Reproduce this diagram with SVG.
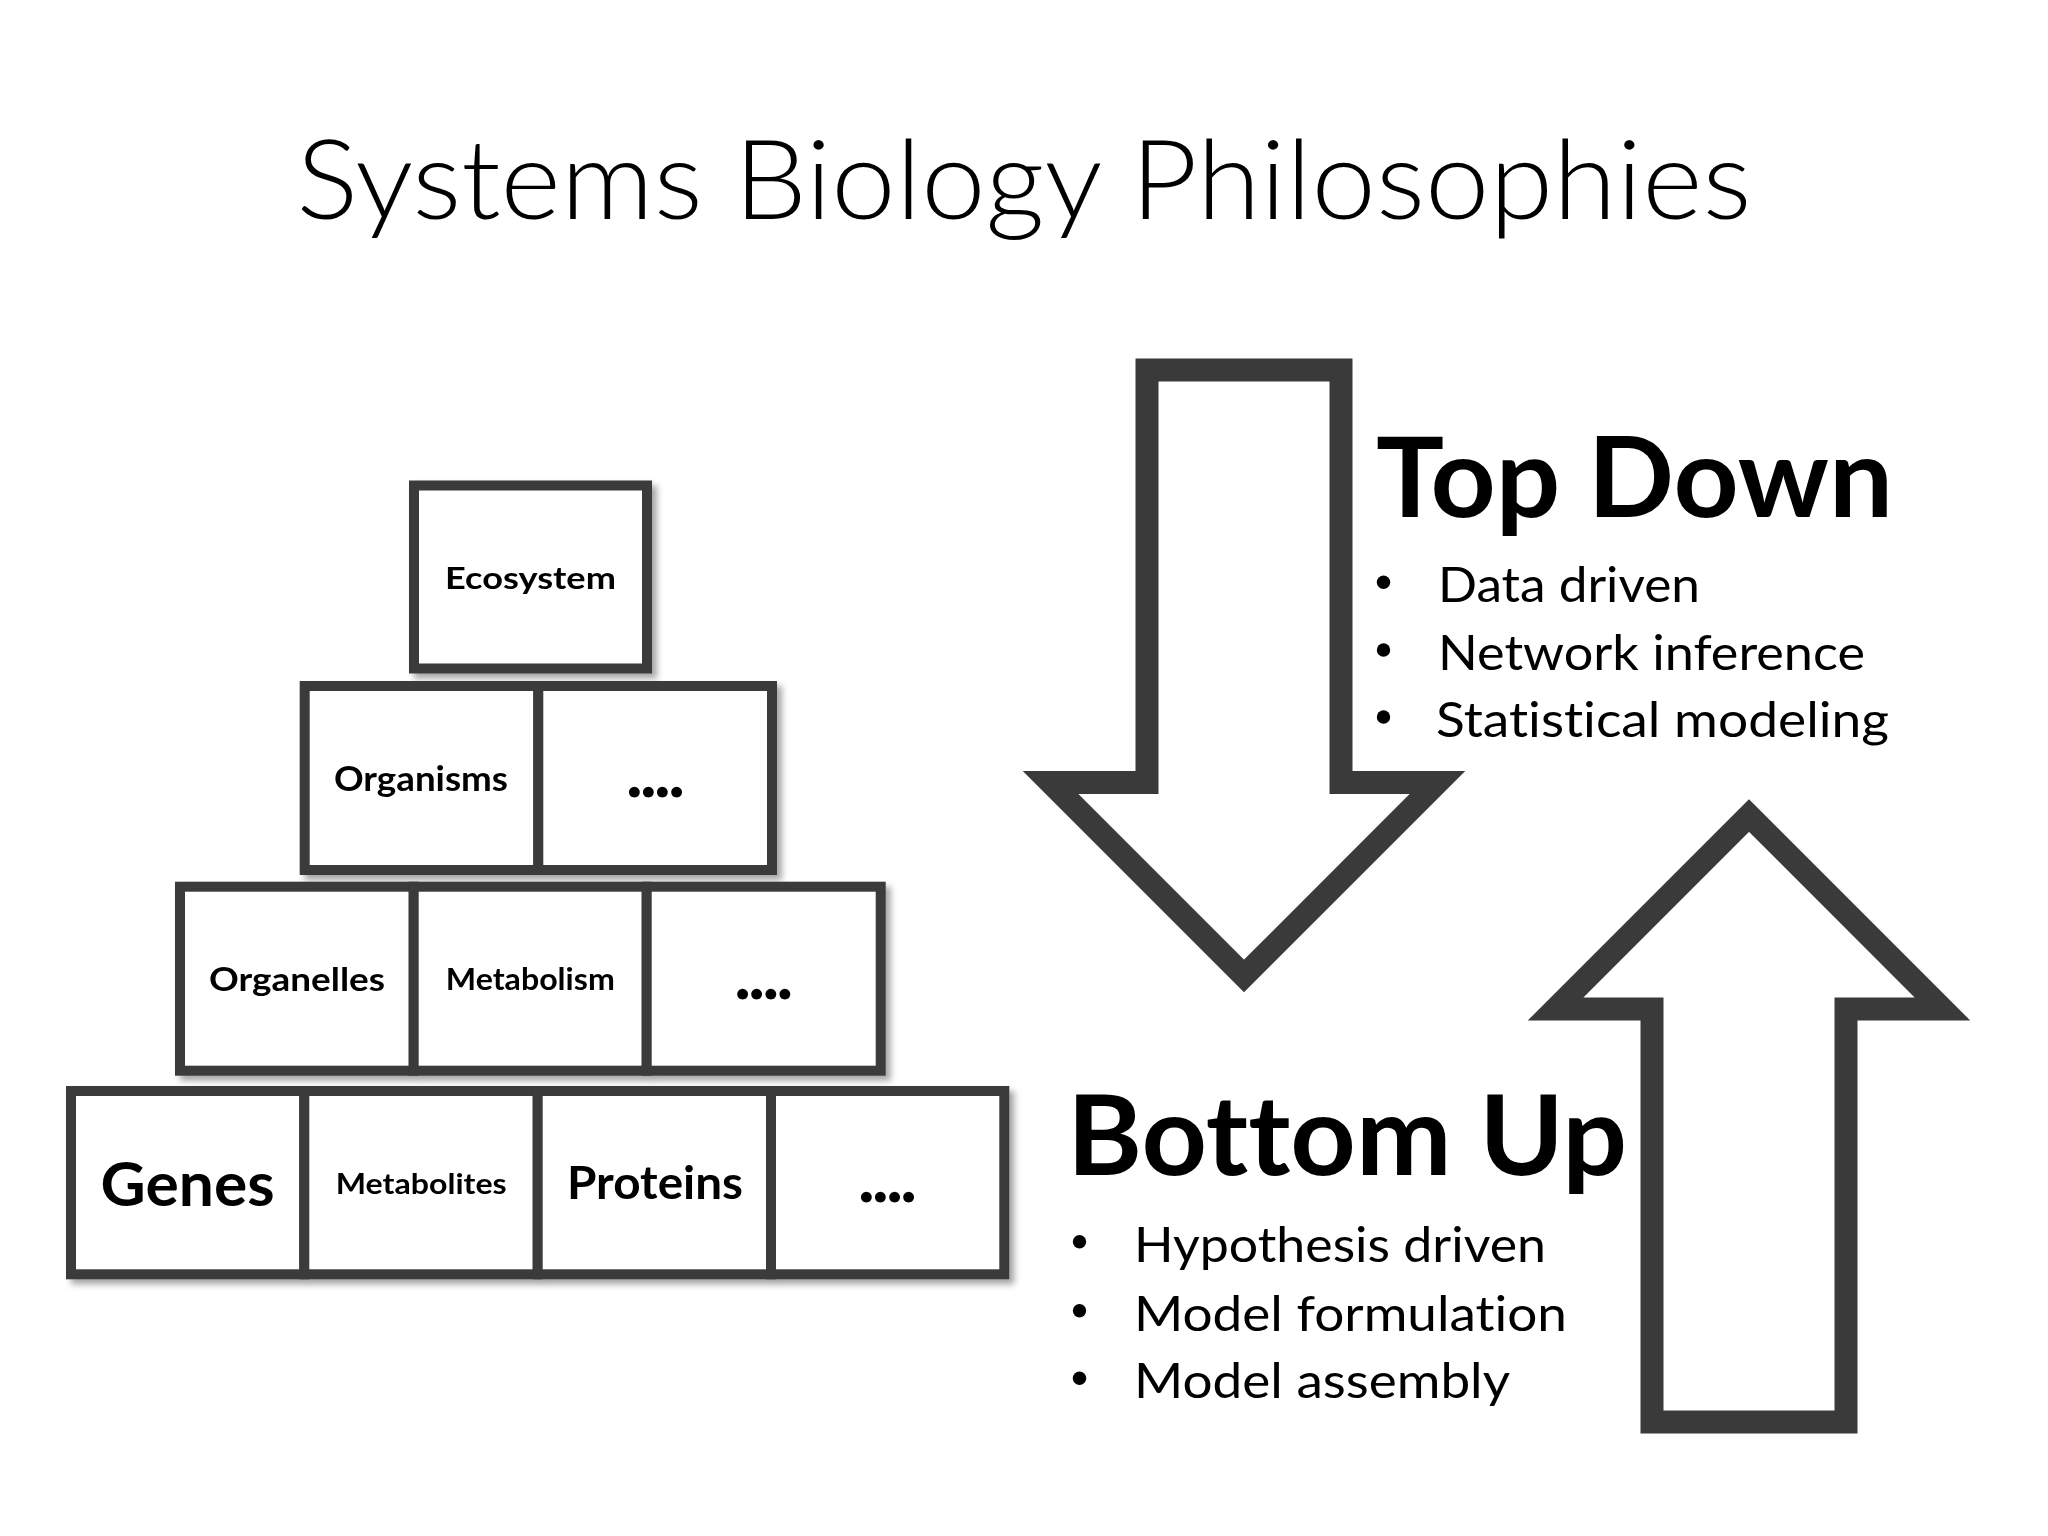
<svg xmlns="http://www.w3.org/2000/svg" width="2048" height="1536" viewBox="0 0 2048 1536">
  <defs>
    <filter id="sh" x="-10%" y="-10%" width="130%" height="130%">
      <feDropShadow dx="5" dy="5" stdDeviation="3" flood-color="#000" flood-opacity="0.35"/>
    </filter>
    <style>
      text { font-variant-ligatures: none; font-feature-settings: "liga" 0, "clig" 0, "dlig" 0; }
      .cell { fill: #ffffff; stroke: #3a3a3a; stroke-width: 10; }
      .arrow { fill: #ffffff; stroke: #3a3a3a; stroke-width: 23; stroke-linejoin: miter; stroke-miterlimit: 10; }
      .lbl { font-family: Lato, "Liberation Sans", sans-serif; font-weight: bold; fill: #000; text-anchor: middle; }
      .more { font-family: Lato, "Liberation Sans", sans-serif; font-weight: 900; fill: #000; text-anchor: middle; font-size: 66px; }
      .big { font-family: Lato, "Liberation Sans", sans-serif; font-weight: bold; fill: #000; font-size: 112px; }
      .item { font-family: Lato, "Liberation Sans", sans-serif; font-weight: normal; fill: #000; font-size: 49px; }
      .title { font-family: Lato, "Liberation Sans", sans-serif; font-weight: 300; fill: #000; font-size: 111px; text-anchor: middle; }
      .dot { fill: #000; }
    </style>
  </defs>
  <rect width="2048" height="1536" fill="#ffffff"/>

  <text id="title" class="title" x="1024" y="219" textLength="1455" lengthAdjust="spacingAndGlyphs">Systems Biology Philosophies</text>

  <!-- Pyramid -->
  <g id="pyramid">
    <g id="row1" filter="url(#sh)">
      <g id="node-ecosystem">
        <rect class="cell" x="414" y="485.5" width="233" height="183"/>
        <text class="lbl" x="530.5" y="589" font-size="30.5" textLength="171" lengthAdjust="spacingAndGlyphs">Ecosystem</text>
      </g>
    </g>
    <g id="row2" filter="url(#sh)">
      <g id="node-organisms">
        <rect class="cell" x="304.7" y="686" width="233.6" height="184"/>
        <text class="lbl" x="421" y="791" font-size="33.5" textLength="174" lengthAdjust="spacingAndGlyphs">Organisms</text>
      </g>
      <g id="node-row2-more">
        <rect class="cell" x="538.3" y="686" width="233.7" height="184"/>
        <text class="more" x="655.4" y="797" textLength="58" lengthAdjust="spacing">....</text>
      </g>
    </g>
    <g id="row3" filter="url(#sh)">
      <g id="node-organelles">
        <rect class="cell" x="180" y="886.7" width="233.7" height="184"/>
        <text class="lbl" x="297" y="990.7" font-size="33" textLength="176" lengthAdjust="spacingAndGlyphs">Organelles</text>
      </g>
      <g id="node-metabolism">
        <rect class="cell" x="413.7" y="886.7" width="233" height="184"/>
        <text class="lbl" x="530.3" y="990" font-size="30" textLength="169" lengthAdjust="spacingAndGlyphs">Metabolism</text>
      </g>
      <g id="node-row3-more">
        <rect class="cell" x="646.7" y="886.7" width="234" height="184"/>
        <text class="more" x="763.7" y="998.5" textLength="58" lengthAdjust="spacing">....</text>
      </g>
    </g>
    <g id="row4" filter="url(#sh)">
      <g id="node-genes">
        <rect class="cell" x="71" y="1091" width="233.3" height="183.3"/>
        <text class="lbl" x="187.6" y="1206" font-size="62" textLength="174" lengthAdjust="spacingAndGlyphs">Genes</text>
      </g>
      <g id="node-metabolites">
        <rect class="cell" x="304.3" y="1091" width="233.4" height="183.3"/>
        <text class="lbl" x="421.2" y="1194.3" font-size="28.5" textLength="171" lengthAdjust="spacingAndGlyphs">Metabolites</text>
      </g>
      <g id="node-proteins">
        <rect class="cell" x="537.7" y="1091" width="233.3" height="183.3"/>
        <text class="lbl" x="655" y="1199.3" font-size="45.6" textLength="176" lengthAdjust="spacingAndGlyphs">Proteins</text>
      </g>
      <g id="node-row4-more">
        <rect class="cell" x="771" y="1091" width="233.3" height="183.3"/>
        <text class="more" x="887.5" y="1201.7" textLength="58" lengthAdjust="spacing">....</text>
      </g>
    </g>
  </g>

  <!-- Block arrows -->
  <g id="arrows">
    <g id="arrow-down">
      <polygon class="arrow" points="1147,370 1341,370 1341,782.5 1437.5,782.5 1244,976 1050.5,782.5 1147,782.5"/>
    </g>
    <g id="arrow-up">
      <polygon class="arrow" points="1652,1422 1846,1422 1846,1009 1942.5,1009 1749,815.5 1555.5,1009 1652,1009"/>
    </g>
  </g>

  <!-- Top Down text block -->
  <g id="top-down">
    <text class="big" x="1376" y="516.7" textLength="517" lengthAdjust="spacingAndGlyphs">Top Down</text>
    <circle class="dot" cx="1383.5" cy="582.3" r="6.7"/>
    <circle class="dot" cx="1383.5" cy="650" r="6.7"/>
    <circle class="dot" cx="1383.5" cy="717" r="6.7"/>
    <text class="item" x="1438" y="602.3" textLength="262" lengthAdjust="spacingAndGlyphs">Data driven</text>
    <text class="item" x="1438" y="670" textLength="427" lengthAdjust="spacingAndGlyphs">Network inference</text>
    <text class="item" x="1436" y="737" textLength="453" lengthAdjust="spacingAndGlyphs">Statistical modeling</text>
  </g>

  <!-- Bottom Up text block -->
  <g id="bottom-up">
    <text class="big" x="1067" y="1175" textLength="560" lengthAdjust="spacingAndGlyphs">Bottom Up</text>
    <circle class="dot" cx="1079.5" cy="1241.7" r="6.7"/>
    <circle class="dot" cx="1079.5" cy="1310.7" r="6.7"/>
    <circle class="dot" cx="1079.5" cy="1378.3" r="6.7"/>
    <text class="item" x="1134" y="1261.7" textLength="412" lengthAdjust="spacingAndGlyphs">Hypothesis driven</text>
    <text class="item" x="1134" y="1330.7" textLength="433" lengthAdjust="spacingAndGlyphs">Model formulation</text>
    <text class="item" x="1134" y="1398.3" textLength="376" lengthAdjust="spacingAndGlyphs">Model assembly</text>
  </g>
</svg>
